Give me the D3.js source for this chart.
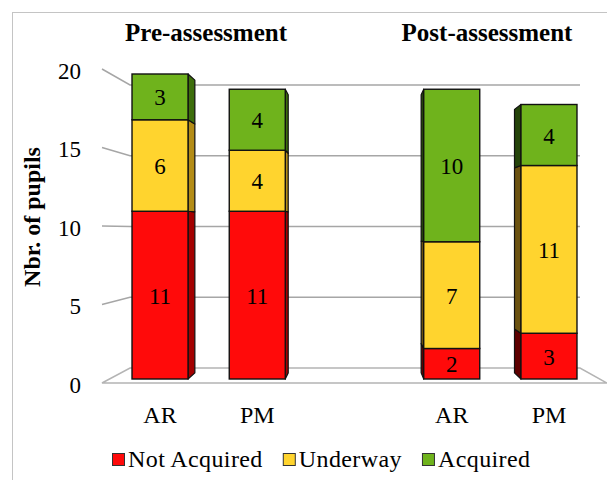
<!DOCTYPE html>
<html>
<head>
<meta charset="utf-8">
<script src="https://cdn.jsdelivr.net/npm/d3@7"></script>
<style>
  body { margin: 0; background: #fff; }
</style>
</head>
<body>
<div id="viz"></div>
<script>
// data
const groups = ["Pre-assessment", "Post-assessment"];
const methods = ["AR", "PM"];
const series = ["Not Acquired", "Underway", "Acquired"];
const not_acquired = [11, 11, 2, 3];   // Pre AR, Pre PM, Post AR, Post PM
const underway = [6, 4, 7, 11];
const acquired = [3, 4, 10, 4];
const y_ticks = [0, 5, 10, 15, 20];

const FONT = "Liberation Serif";

const LAYOUT = {
  width: 607,
  height: 480,
  vp: [359, 226],       // vanishing point of the 3d look
  bar_depth: 0.04,
  wall: { front_x: 102, back_x: 130, right_back: 580, right_front: 607 }
}

const COLORS = {
  front: ["#ff0a0a", "#ffd42e", "#6fb31c"],
  side_right: ["#a30000", "#b38c16", "#3d6e0c"],
  side_left: ["#5e0000", "#6b5210", "#25440a"],
  grid: "#a6a6a6"
}

const svg = d3.select("#viz").append("svg")
  .attr("width", LAYOUT.width)
  .attr("height", LAYOUT.height);

// chart frame
svg.append("rect")
  .attr("x", 12.5).attr("y", 12.5)
  .attr("width", 640).attr("height", 520)
  .attr("fill", "none").attr("stroke", "#c4c4c4");

// slots: two bars per group and an empty slot between groups
const slots = [];
groups.forEach((g, gi) => {
  if (gi > 0) slots.push("gap");
  methods.forEach(m => slots.push(g + "|" + m));
});

const x = d3.scaleBand().domain(slots)
  .range([111.4, 597.6]).paddingInner(0.424).paddingOuter(0.212);

const y_front = d3.scaleLinear().domain([0, 20]).range([383, 69]);
const y_back = d3.scaleLinear().domain([0, 20]).range([368, 85]);
const y_bar = d3.scaleLinear().domain([0, 20]).range([379, 74]);

function back(p) {
  return [p[0] + (LAYOUT.vp[0] - p[0]) * LAYOUT.bar_depth,
          p[1] + (LAYOUT.vp[1] - p[1]) * LAYOUT.bar_depth];
}

// floor
const w = LAYOUT.wall;
svg.append("polygon")
  .attr("points", [[w.front_x, y_front(0)], [w.back_x, y_back(0)],
                   [w.right_back, y_back(0)], [w.right_front, y_front(0)]].join(" "))
  .attr("fill", "#fff").attr("stroke", "#b4b4b4").attr("stroke-width", 1.5);

// gridlines on the back wall + the slanted ticks on the side
const grid = svg.append("g").attr("stroke", COLORS.grid).attr("stroke-width", 1.5).attr("fill", "none");
y_ticks.filter(v => v > 0).forEach(v => {
  grid.append("polyline")
    .attr("points", [[w.front_x, y_front(v)], [w.back_x, y_back(v)], [w.right_back, y_back(v)]].join(" "));
});

function txt(sel) {
  return sel.attr("font-family", FONT).attr("fill", "#000");
}

// tick labels
svg.append("g").selectAll("text")
  .data(y_ticks)
  .join("text")
  .call(txt)
  .attr("x", 81)
  .attr("y", d => y_front(d) + 2)
  .attr("text-anchor", "end")
  .attr("dominant-baseline", "central")
  .attr("font-size", 23)
  .text(d => d);

// axis title
svg.append("text")
  .call(txt)
  .attr("transform", "translate(32,217) rotate(-90)")
  .attr("text-anchor", "middle")
  .attr("dominant-baseline", "central")
  .attr("font-size", 24)
  .attr("font-weight", "bold")
  .text("Nbr. of pupils");

// stack the values
const values = [not_acquired, underway, acquired];
const bars = [];
groups.forEach((g, gi) => {
  methods.forEach((m, mi) => {
    const idx = gi * methods.length + mi;
    let y0 = 0;
    const segs = values.map((vals, si) => {
      const s = { y0: y0, y1: y0 + vals[idx], v: vals[idx], si: si };
      y0 += vals[idx];
      return s;
    });
    bars.push({ key: g + "|" + m, group: g, method: m, segs: segs });
  });
});

const bar_g = svg.append("g").selectAll("g.bar")
  .data(bars)
  .join("g")
  .classed("bar", true);

bar_g.each(function (b) {
  const g = d3.select(this);
  const x0 = x(b.key), x1 = x(b.key) + x.bandwidth();
  const right_side = (x0 + x1) / 2 < LAYOUT.vp[0];
  const ex = right_side ? x1 : x0;
  b.segs.forEach(s => {
    const top = y_bar(s.y1), bot = y_bar(s.y0);
    const pts = [[ex, top], back([ex, top]), back([ex, bot]), [ex, bot]];
    g.append("polygon")
      .attr("points", pts.join(" "))
      .attr("fill", right_side ? COLORS.side_right[s.si] : COLORS.side_left[s.si])
      .attr("stroke", "#111").attr("stroke-width", 1.2).attr("stroke-linejoin", "round");
    g.append("rect")
      .attr("x", x0).attr("y", top)
      .attr("width", x1 - x0).attr("height", bot - top)
      .attr("fill", COLORS.front[s.si])
      .attr("stroke", "#111").attr("stroke-width", 1.4);
    g.append("text")
      .call(txt)
      .attr("x", (x0 + x1) / 2)
      .attr("y", (top + bot) / 2 + 1)
      .attr("text-anchor", "middle")
      .attr("dominant-baseline", "central")
      .attr("font-size", 23)
      .text(s.v);
  });
});

// category labels
svg.append("g").selectAll("text")
  .data(bars)
  .join("text")
  .call(txt)
  .attr("x", d => x(d.key) + x.bandwidth() / 2)
  .attr("y", 423)
  .attr("text-anchor", "middle")
  .attr("font-size", 24)
  .text(d => d.method);

// group titles
const title_x = [206, 487];
svg.append("g").selectAll("text")
  .data(groups)
  .join("text")
  .call(txt)
  .attr("x", (d, i) => title_x[i])
  .attr("y", 41)
  .attr("text-anchor", "middle")
  .attr("font-size", 25)
  .attr("font-weight", "bold")
  .text(d => d);

// legend
const legend = svg.append("g");
let lx = 112;
series.forEach((name, i) => {
  legend.append("rect")
    .attr("x", lx + 0.5).attr("y", 453.5)
    .attr("width", 12).attr("height", 12)
    .attr("fill", COLORS.front[i])
    .attr("stroke", "#333").attr("stroke-width", 1);
  const t = legend.append("text")
    .call(txt)
    .attr("x", lx + 16)
    .attr("y", 467)
    .attr("font-size", 24)
    .attr("letter-spacing", 0.4)
    .text(name);
  lx += 16 + t.node().getComputedTextLength() + 20;
});
</script>
</body>
</html>
